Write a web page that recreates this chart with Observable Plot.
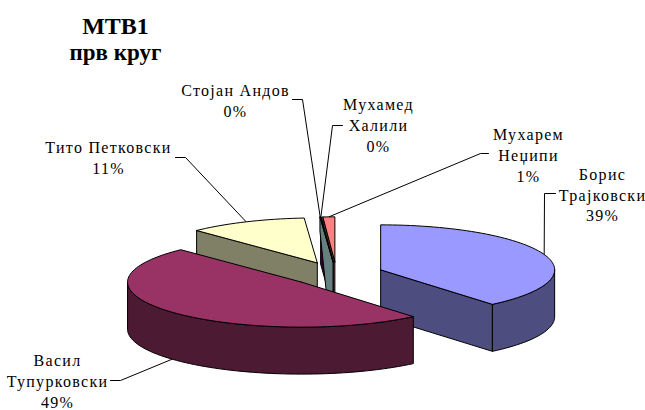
<!DOCTYPE html>
<html><head><meta charset="utf-8">
<script src="https://cdn.jsdelivr.net/npm/d3@7"></script>
<script src="https://cdn.jsdelivr.net/npm/@observablehq/plot@0.6"></script>
<style>html,body{margin:0;padding:0;background:#fff}svg{display:block}
</style>
</head><body><div id="chart"></div>
<script>
// data
const names = ["Борис\nТрајковски","Васил\nТупурковски","Тито Петковски","Стојан Андов","Мухамед\nХалили","Мухарем\nНеџипи"];
const shares = [38.9,48.9,11.0,0.05,0.05,1.1];
const percentLabels = ["39%","49%","11%","0%","0%","1%"];
const topColors = ["#9999FF","#993366","#FFFFCC","#CCFFFF","#660066","#FF8080"];
const sideColors = ["#4D4D80","#4D1A33","#808066","#668080","#330033","#804040"];
const drawOrder = [0,2,5,4,3,1];
// label layout: text centre, elbow and start of leader
const labelAt = [[602,193.5],[57,380],[108,156.5],[235,99],[378,124],[528,154]];
const elbows = [[[555,193],[544,193]],[[110,380],[120,380]],[[175,157],[185,157]],[[292,99],[302,99]],[[342,125],[332,125]],[[488,153],[480,153]]];
// pie layout
const C = {x:336,y:273.5,r:174,k:45/174,depth:47,explode:0.27};

const rad = d => d*Math.PI/180;
let cum = 0;
const slices = shares.map((v,i)=>{
  const a0 = cum/100*360; cum += v; const a1 = cum/100*360; const mid=(a0+a1)/2;
  return {i,a0,a1,mid,cx:C.x+C.explode*C.r*Math.sin(rad(mid)),cy:C.y-C.explode*C.r*C.k*Math.cos(rad(mid))};
});
const rim = (s,a,dz=0)=>[s.cx+C.r*Math.sin(rad(a)),s.cy-C.r*C.k*Math.cos(rad(a))+dz];
const arc = (s,a,b,dz=0)=>{const n=Math.max(2,Math.ceil(Math.abs(b-a)/2));return d3.range(n+1).map(j=>rim(s,a+(b-a)*j/n,dz));};

const rows = [];
const addPoly = (id,fill,pts)=>{[...pts,pts[0]].forEach(p=>rows.push({id,fill,x:p[0],y:p[1]}));};
drawOrder.forEach(i=>{
  const s = slices[i], c=[s.cx,s.cy], cd=[s.cx,s.cy+C.depth];
  const side = sideColors[i];
  if (Math.sin(rad(s.a0))<0) {
    const P = rim(s,s.a0);
    if (i===3) addPoly(`f0${i}`,side,[P,[P[0],P[1]+C.depth*0.3],[c[0],c[1]+C.depth*2],c]);
    else addPoly(`f0${i}`,side,[P,[P[0],P[1]+C.depth],cd,c]);
  }
  if (Math.sin(rad(s.a1))>0) {
    const P = rim(s,s.a1);
    addPoly(`f1${i}`,side,[c,cd,[P[0],P[1]+C.depth],P]);
  }
  const w0=Math.max(s.a0,90), w1=Math.min(s.a1,270);
  if (w1>w0) addPoly(`w${i}`,side,[...arc(s,w0,w1),...arc(s,w1,w0,C.depth)]);
  addPoly(`t${i}`,topColors[i],[c,...arc(s,s.a0,s.a1)]);
});

const leaders = [];
slices.forEach((s,i)=>{
  const front = Math.cos(rad(s.mid))<0;
  const end = rim(s,s.mid,front?C.depth:0);
  [...elbows[i],end].forEach(p=>leaders.push({id:i,x:p[0],y:p[1]}));
});
const labels = names.map((n,i)=>({text:n+"\n"+percentLabels[i],x:labelAt[i][0],y:labelAt[i][1]}));
const titleRows = [{text:"МТВ1",x:115,y:26,size:24},{text:"прв круг",x:115,y:52,size:23}];

const chart = Plot.plot({
  width:645,height:410,margin:0,
  x:{domain:[0,645],range:[0,645],axis:null},
  y:{domain:[0,410],range:[0,410],axis:null},
  color:{type:"identity"},
  style:{background:"#fff"},
  marks:[
    Plot.line(leaders,{x:"x",y:"y",z:"id",stroke:"#000",strokeWidth:1}),
    Plot.line(rows,{x:"x",y:"y",z:"id",fill:"fill",stroke:"#000",strokeWidth:1,strokeLinejoin:"round"}),
    Plot.text(labels,{x:"x",y:"y",text:"text",fontSize:16,lineHeight:1.3,fill:"#000"}),
    Plot.text(titleRows,{x:"x",y:"y",text:"text",fontWeight:"bold",fontSize:"size",fill:"#000"})
  ]
});
const groups = chart.querySelectorAll('g[aria-label="text"]');
groups.forEach(g=>{g.style.fontFamily='"Liberation Serif", serif';});
if (groups[0]) groups[0].style.letterSpacing="1.3px";
document.getElementById("chart").append(chart);
</script></body></html>
